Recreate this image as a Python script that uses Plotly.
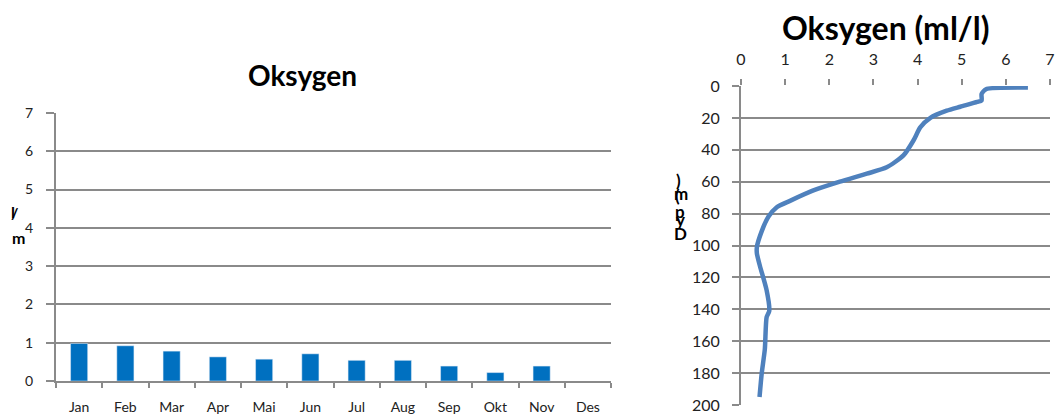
import plotly.graph_objects as go

W, H = 1055, 417

# Left chart: monthly oxygen
months = ["Jan", "Feb", "Mar", "Apr", "Mai", "Jun", "Jul", "Aug", "Sep", "Okt", "Nov", "Des"]
oxygen_month = [0.98, 0.92, 0.78, 0.63, 0.57, 0.71, 0.54, 0.54, 0.39, 0.22, 0.39, None]

# Right chart: oxygen profile vs depth
profile_oxygen = [6.5, 5.55, 5.45, 5.45, 5.35, 4.97, 4.66, 4.29, 4.06, 3.91, 3.68, 3.30,
                  2.85, 2.24, 1.64, 1.11, 0.81, 0.62, 0.47, 0.36, 0.36, 0.43, 0.58, 0.64,
                  0.58, 0.54, 0.47, 0.42]
profile_depth = [1, 2, 5, 9, 10, 13, 15.5, 20, 26, 34, 43.5, 51,
                 55, 60, 65.5, 72, 76, 82, 91, 101, 105, 113, 128, 141,
                 145, 165, 180, 195]

GRID = "#8a8a8a"
FONT = "Lato, 'Open Sans', sans-serif"


def px(x):
    return x / W


def py(y):
    return (H - y) / H


fig = go.Figure()
fig.add_trace(go.Bar(x=months, y=oxygen_month, marker_color="#0070C0",
                     xaxis="x", yaxis="y", showlegend=False))
fig.add_trace(go.Scatter(x=profile_oxygen, y=profile_depth, mode="lines",
                         line=dict(color="#4F81BD", width=4.5, shape="spline", smoothing=0.6),
                         xaxis="x2", yaxis="y2", showlegend=False))

fig.update_layout(
    width=W, height=H,
    margin=dict(l=0, r=0, t=0, b=0, autoexpand=False),
    paper_bgcolor="white", plot_bgcolor="white",
    font=dict(family=FONT, color="#222222"),
    bargap=0.63,
    xaxis=dict(domain=[px(56), px(611)], type="category", automargin=False,
               showline=True, linecolor=GRID, linewidth=2,
               ticks="outside", tickson="boundaries", ticklen=5, tickcolor=GRID, tickwidth=2,
               showgrid=False, tickfont=dict(size=14), ticklabelstandoff=12,
               anchor="y"),
    yaxis=dict(domain=[py(381), py(113)], range=[0, 7], dtick=1, automargin=False,
               showline=True, linecolor=GRID, linewidth=2,
               showgrid=True, gridcolor=GRID, gridwidth=2,
               ticks="outside", ticklen=8, tickcolor=GRID, tickwidth=2,
               tickfont=dict(size=14), ticklabelstandoff=10,
               zeroline=False, anchor="x"),
    xaxis2=dict(domain=[px(741), px(1050)], range=[0, 7], dtick=1, side="top", automargin=False,
                showline=False, showgrid=False, zeroline=False,
                ticks="outside", ticklen=6, tickcolor=GRID, tickwidth=2,
                tickfont=dict(size=16), ticklabelstandoff=8,
                anchor="y2"),
    yaxis2=dict(domain=[py(405), py(86)], range=[200, 0], dtick=20, automargin=False,
                showline=True, linecolor=GRID, linewidth=2,
                showgrid=True, gridcolor=GRID, gridwidth=2,
                ticks="outside", ticklen=7, tickcolor=GRID, tickwidth=2,
                tickfont=dict(size=16), ticklabelstandoff=9,
                zeroline=False, anchor="x2"),
)

ann = []
ann.append(dict(text="<b>Oksygen</b>", x=px(302), y=py(75), xref="paper", yref="paper",
                showarrow=False, font=dict(size=28, color="black"), xanchor="center", yanchor="middle"))
ann.append(dict(text="<b>Oksygen (ml/l)</b>", x=px(886), y=py(27), xref="paper", yref="paper",
                showarrow=False, font=dict(size=32, color="black"), xanchor="center", yanchor="middle"))
# garbled stacked axis titles (as in the original)
for ch, x, y in [("l", 13, 212), ("/", 14, 213), ("m", 18, 237)]:
    ann.append(dict(text=f"<b>{ch}</b>", x=px(x), y=py(y), xref="paper", yref="paper",
                    showarrow=False, font=dict(size=16, color="black"),
                    xanchor="center", yanchor="middle"))
for ch, x, y in [(")", 678, 180), ("m", 681, 193), ("(", 677, 195), ("p", 680, 212),
                 ("y", 680, 219), ("D", 680, 233)]:
    ann.append(dict(text=f"<b>{ch}</b>", x=px(x), y=py(y), xref="paper", yref="paper",
                    showarrow=False, font=dict(size=17, color="black"),
                    xanchor="center", yanchor="middle"))
fig.update_layout(annotations=ann)

fig.write_html("out.html", config={"displayModeBar": False},
               post_script="document.body.style.margin='0px';document.body.style.overflow='hidden';")
